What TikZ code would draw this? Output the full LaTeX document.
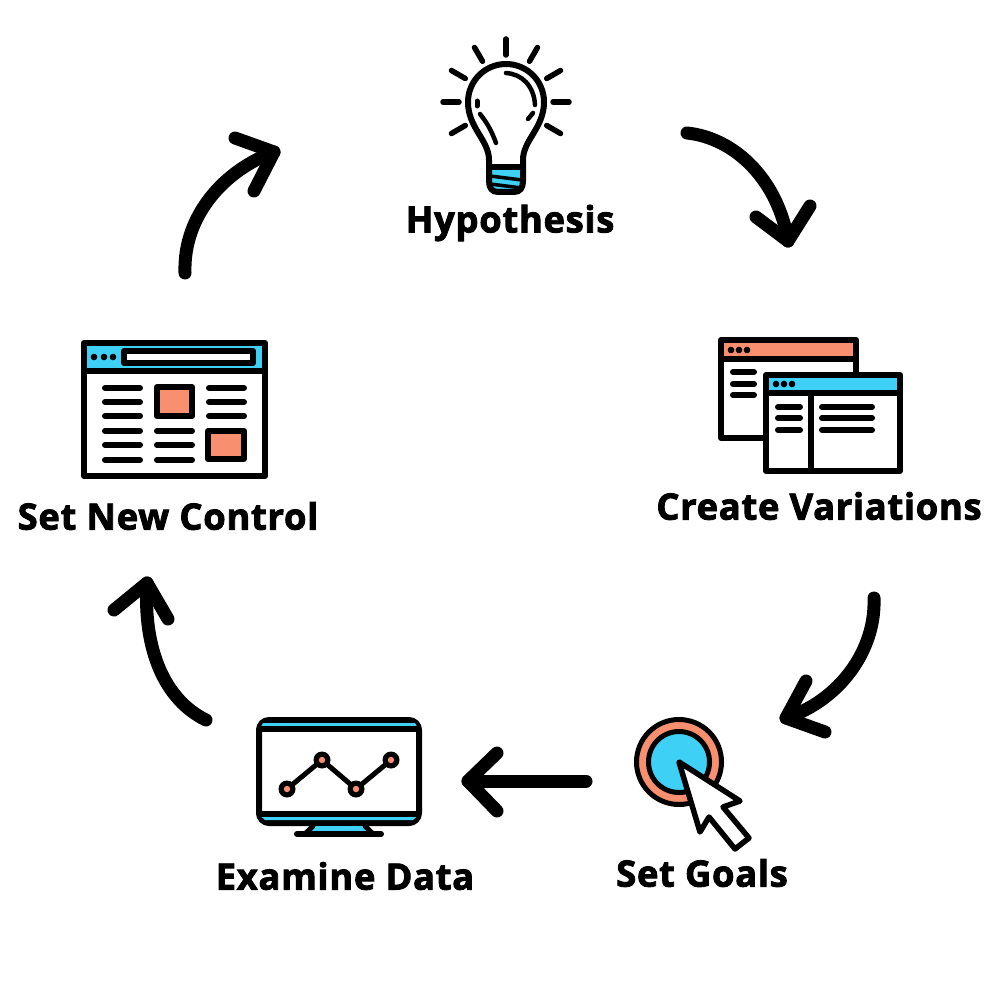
\documentclass[tikz,border=0pt]{standalone}
\usepackage{fontspec}
\newfontfamily\labelfont[BoldFeatures={FakeBold=2.4},LetterSpace=2]{Open Sans}
\definecolor{skyc}{HTML}{3FD0F5}
\definecolor{salm}{HTML}{F88F6E}
\tikzset{
 label text/.style={font=\labelfont\bfseries\fontsize{36.3}{42}\selectfont,text=black,inner sep=0pt,anchor=center},
 cycle arrow/.style={line width=13pt,line cap=round,line join=round},
 ink/.style={line width=6pt,line cap=round,line join=round,draw=black},
 textline/.style={line width=6pt,line cap=round},
 ray/.style={line width=5.5pt,line cap=round},
}
\begin{document}
\begin{tikzpicture}[x=1pt,y=-1pt]
\useasboundingbox (0,0) rectangle (1000,1000);
\fill[white] (0,0) rectangle (1000,1000);

% ---------- arrows
\coordinate (a1s) at (687,133); \coordinate (a1e) at (788,241);
\coordinate (a1l) at (756,217); \coordinate (a1r) at (810,206);
\coordinate (a2s) at (874,598); \coordinate (a2e) at (786,718);
\coordinate (a2l) at (806,681); \coordinate (a2r) at (825,732);
\coordinate (a3s) at (586,781); \coordinate (a3e) at (468,781);
\coordinate (a3l) at (497,753); \coordinate (a3r) at (497,811);
\coordinate (a4s) at (206,720); \coordinate (a4e) at (147,583);
\coordinate (a4l) at (114,610); \coordinate (a4r) at (168,619);
\coordinate (a5s) at (185,273); \coordinate (a5e) at (274,152);
\coordinate (a5l) at (235,138); \coordinate (a5r) at (254,191);
\draw[cycle arrow] (a1s) .. controls (735,138) and (778,180) .. (a1e);
\draw[cycle arrow] (a1l) -- (a1e) -- (a1r);
\draw[cycle arrow] (a2s) .. controls (876,650) and (840,700) .. (a2e);
\draw[cycle arrow] (a2l) -- (a2e) -- (a2r);
\draw[cycle arrow] (a3s) -- (a3e);
\draw[cycle arrow] (a3l) -- (a3e) -- (a3r);
\draw[cycle arrow] (a4s) .. controls (165,700) and (143,650) .. (a4e);
\draw[cycle arrow] (a4l) -- (a4e) -- (a4r);
\draw[cycle arrow] (a5s) .. controls (183,215) and (225,170) .. (a5e);
\draw[cycle arrow] (a5l) -- (a5e) -- (a5r);

% ---------- bulb
\foreach \a in {0,30,60,90,120,150,180,210,330}
  \draw[ray] (506,102) ++({47*cos(\a)},{-47*sin(\a)}) -- ++({16*cos(\a)},{-16*sin(\a)});
\fill[skyc] (489,167) rectangle (523,190);
\draw[line width=3.5pt] (490,176) -- (522,180);
\draw[line width=3.5pt] (490,184) -- (522,188);
\draw[ink] (489,167) -- (523,167);
\draw[ink] (489,160) -- (489,181) .. controls (489,188) and (492,192) .. (498,192)
  -- (514,192) .. controls (520,192) and (523,188) .. (523,181) -- (523,160)
  .. controls (523,140) and (544,128) .. (544,102)
  arc[start angle=0,end angle=-180,radius=38]
  .. controls (468,128) and (489,140) .. (489,160);
\draw[line width=4.5pt,line cap=round] (506,73) .. controls (522,74) and (534,86) .. (535,105);
\draw[line width=4.5pt,line cap=round] (533,113) -- (528,119);
\draw[line width=5pt,line cap=round] (477,101) -- (477,106);
\draw[line width=4.5pt,line cap=round] (480,114) .. controls (488,124) and (492,132) .. (496,143);

% ---------- variations
\filldraw[ink,fill=white] (721,340) rectangle (856,438);
\fill[salm] (724,343) rectangle (853,356);
\draw[ink,line cap=butt] (721,359) -- (856,359);
\foreach \x in {731,739,747} \fill (\x,350) circle[radius=3.3];
\foreach \y in {372,384,395} \draw[textline] (733,\y) -- (754,\y);
\filldraw[ink,fill=white] (766,375) rectangle (900,471);
\fill[skyc] (769,378) rectangle (897,391);
\draw[ink,line cap=butt] (766,393) -- (900,393);
\draw[ink,line cap=butt] (811,393) -- (811,471);
\foreach \x in {776,784,792} \fill (\x,384) circle[radius=3.3];
\foreach \y in {407,418,430} {\draw[textline] (778,\y) -- (800,\y); \draw[textline] (822,\y) -- (872,\y);}

% ---------- goals
\filldraw[line width=5pt,fill=salm] (679,762) circle[radius=42.5];
\filldraw[line width=5pt,fill=skyc] (679,762) circle[radius=30.5];
\filldraw[line width=5.5pt,line join=round,fill=white] (679,762) -- (740,801) -- (723,807) -- (749,838) -- (735,849) -- (709,817) -- (700,832) -- cycle;

% ---------- monitor
\filldraw[ink,fill=white,rounded corners=10pt] (259,720) rectangle (419,823);
\fill[skyc] (263,723) -- (415,723) -- (417,726.5) -- (261,726.5) -- cycle;
\fill[skyc] (261,816.5) -- (417,816.5) -- (413,820) -- (265,820) -- cycle;
\draw[ink,line cap=butt] (259,729) -- (419,729);
\draw[ink,line cap=butt] (259,814) -- (419,814);
\fill[skyc] (315,826) -- (363,826) -- (368,832) -- (310,832) -- cycle;
\draw[line width=5pt,line cap=round] (313,826) -- (305,834);
\draw[line width=5pt,line cap=round] (365,826) -- (373,834);
\draw[textline] (297,834) -- (381,834);
\draw[line width=5pt,line join=round] (287,789) -- (322,760) -- (356,789) -- (391,760);
\foreach \x/\y in {287/789,322/760,356/789,391/760} {\fill (\x,\y) circle[radius=8.5]; \fill[salm] (\x,\y) circle[radius=3.2];}

% ---------- control
\filldraw[ink,fill=white] (84,343) rectangle (265,476);
\fill[skyc] (87,346) rectangle (262,368);
\draw[ink,line cap=butt] (84,371) -- (265,371);
\foreach \x in {94,104,113} \fill (\x,357) circle[radius=3.3];
\filldraw[ink,fill=white] (124,351) rectangle (253,363);
\foreach \y in {388,402,416,431,445,460} \draw[textline] (105,\y) -- (140,\y);
\foreach \y in {431,445,460} \draw[textline] (157,\y) -- (192,\y);
\foreach \y in {388,402,416} \draw[textline] (209,\y) -- (244,\y);
\filldraw[ink,fill=salm] (157,387) rectangle (192,416);
\filldraw[ink,fill=salm] (208,431) rectangle (244,459);

% ---------- labels
\node[label text] (hyp) at (510,223) {Hypothesis};
\node[label text] (var) at (819,506) {Create Variations};
\node[label text] (goal) at (702,873) {Set Goals};
\node[label text] (data) at (345,876) {Examine Data};
\node[label text] (ctrl) at (168,516) {Set New Control};
\end{tikzpicture}
\end{document}
